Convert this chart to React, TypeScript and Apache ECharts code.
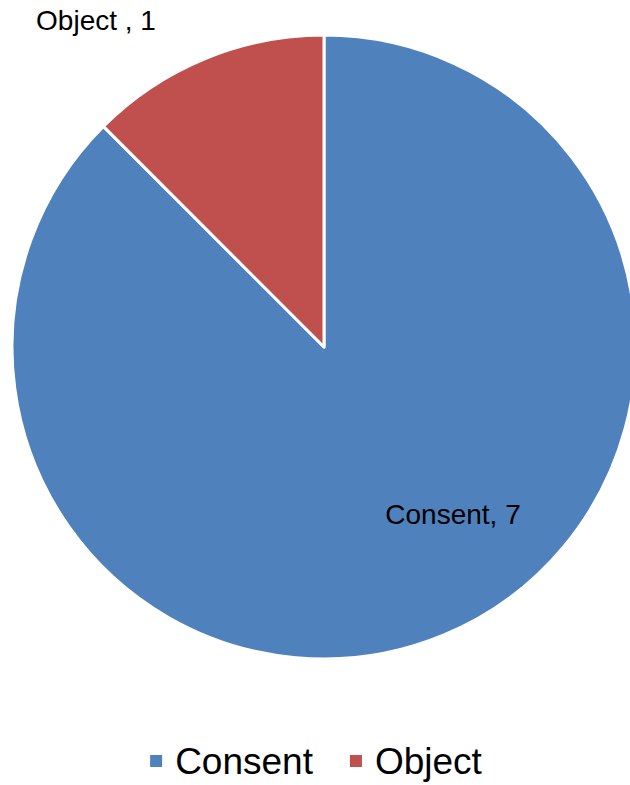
import React, { useEffect, useRef } from "react";
import * as echarts from "echarts";

const categories = ["Consent", "Object"];
const values = [7, 1];
const labelTexts = ["Consent, 7", "Object , 1"];
const colors = ["#4F81BD", "#C0504D"];

export default function App() {
  const ref = useRef<HTMLDivElement>(null);
  useEffect(() => {
    const chart = echarts.init(ref.current!, null, { renderer: "svg" });
    const labelPos: Record<number, [number, number]> = {
      0: [453, 514],
      1: [96, 20],
    };
    chart.setOption({
      animation: false,
      textStyle: { fontFamily: "Liberation Sans, Arial, sans-serif" },
      legend: {
        data: categories,
        bottom: -1,
        left: "center",
        icon: "rect",
        itemWidth: 14,
        itemHeight: 14,
        itemGap: 35,
        textStyle: {
          fontSize: 37,
          lineHeight: 40,
          color: "#000",
          fontFamily: "Liberation Sans, Arial, sans-serif",
          padding: [0, 0, 0, 7],
        },
      },
      series: [
        {
          type: "pie",
          center: [324, 347],
          radius: 312,
          startAngle: 90,
          clockwise: true,
          itemStyle: { borderColor: "#fff", borderWidth: 3 },
          label: {
            show: true,
            position: "inside",
            color: "#000",
            fontSize: 28,
            fontFamily: "Liberation Sans, Arial, sans-serif",
            formatter: (p: any) => labelTexts[p.dataIndex],
          },
          labelLine: { show: false },
          labelLayout: (p: any) => {
            const pos = labelPos[p.dataIndex];
            return { x: pos[0], y: pos[1], align: "center", verticalAlign: "middle" };
          },
          emphasis: { disabled: true },
          data: categories.map((c, i) => ({
            name: c,
            value: values[i],
            itemStyle: { color: colors[i] },
          })),
        },
      ],
    });
    return () => chart.dispose();
  }, []);
  return (
    <div
      ref={ref}
      style={{ position: "fixed", left: 0, top: 0, width: 630, height: 785, background: "#fff" }}
    />
  );
}
